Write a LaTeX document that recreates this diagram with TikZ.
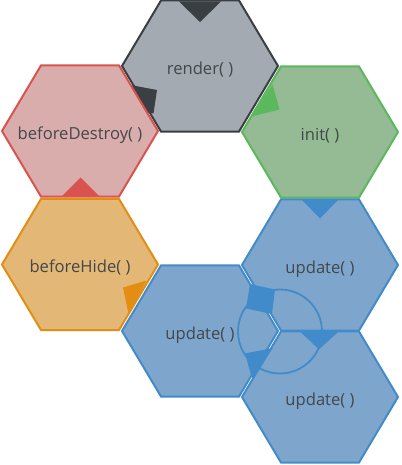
\documentclass[tikz,border=0pt]{standalone}
\usepackage{fontspec}
\setmainfont{Open Sans}
\usepackage{xcolor}
\usetikzlibrary{shapes.geometric}

\definecolor{renderfill}{HTML}{A3AAB1}
\definecolor{renderline}{HTML}{3A3F44}
\definecolor{destroyfill}{HTML}{DAADAD}
\definecolor{destroyline}{HTML}{D9534F}
\definecolor{initfill}{HTML}{94BB94}
\definecolor{initline}{HTML}{5CB85C}
\definecolor{hidefill}{HTML}{E3B877}
\definecolor{hideline}{HTML}{E38D13}
\definecolor{updatefill}{HTML}{7EA6CC}
\definecolor{updateline}{HTML}{428BCA}
\definecolor{labelgray}{HTML}{43474B}

\begin{document}
\begin{tikzpicture}[x=1pt, y=-1pt,
    cell/.style={
        regular polygon,
        regular polygon sides=6,
        minimum size=156pt,
        inner sep=0pt,
        outer sep=0pt,
        yscale=0.97,
        transform shape,
        line width=2pt
    },
    caption/.style={
        text=labelgray,
        inner sep=0pt,
        font=\fontsize{16.6}{19}\selectfont,
        text height=16.5pt,
        text depth=0pt
    },
    ring/.style={draw=updateline, line width=1.8pt}
]
\useasboundingbox (0,0) rectangle (401,465);

% Top cell
\node[cell, draw=renderline, fill=renderfill] (render) at (200,66) {};
\node[caption] (render-t) at (render) {render( )};
\fill[renderline] (179,1.5) -- (221,1.5) -- (200,22) -- cycle;
\fill[renderline] (130.5,85) -- (157,90) -- (153.5,113.5) -- (126.5,109.5) -- cycle;

% Left column
\node[cell, draw=destroyline, fill=destroyfill] (destroy) at (80,131) {};
\node[caption] (destroy-t) at (destroy) {beforeDestroy( )};
\node[cell, draw=hideline, fill=hidefill] (hide) at (80,264.5) {};
\node[caption] (hide-t) at (hide) {beforeHide( )};

% Right of render
\node[cell, draw=initline, fill=initfill] (init) at (320,132) {};
\node[caption] (init-t) at (init) {init( )};

% Update cluster
\node[cell, draw=updateline, fill=updatefill] (upd1) at (320,265) {};
\node[cell, draw=updateline, fill=updatefill] (upd2) at (200,331) {};
\node[cell, draw=updateline, fill=updatefill] (upd3) at (320,397) {};
\node[caption] (upd1-t) at (upd1) {update( )};
\node[caption] (upd2-t) at (upd2) {update( )};
\node[caption] (upd3-t) at (upd3) {update( )};

\coordinate (hub) at (280,331.5);
\draw[ring] (hub) circle (42);

% Arrow heads
\fill[destroyline] (61.5,196.5) -- (99.5,196.5) -- (80.5,177.5) -- cycle;
\fill[initline] (272.5,84.5) -- (279.5,109.5) -- (251.5,116.5) -- cycle;
\fill[hideline] (146.5,280.5) -- (123,287.5) -- (128.5,313.5) -- cycle;
\fill[updateline] (301.5,199.5) -- (338.5,199.5) -- (320,218.5) -- cycle;
\fill[updateline] (250,284) -- (275,289.5) -- (272,314) -- (246,308.5) -- cycle;
\fill[updateline] (300,331.5) -- (338.5,331.5) -- (319,349.5) -- cycle;
\fill[updateline] (273,348) -- (245,353.5) -- (252,378.5) -- cycle;

\end{tikzpicture}
\end{document}
